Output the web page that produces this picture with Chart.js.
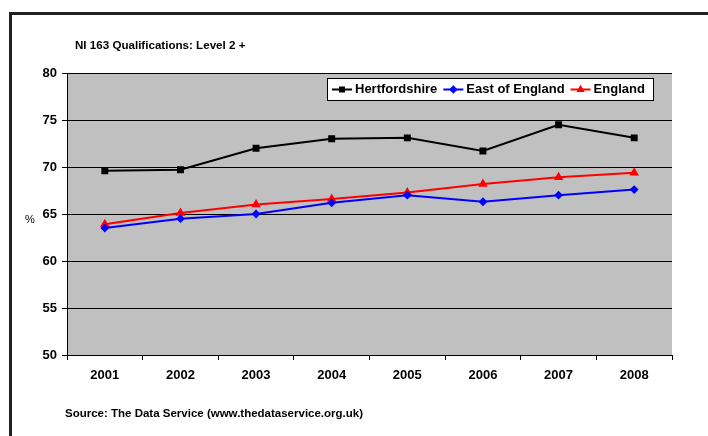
<!DOCTYPE html>
<html>
<head>
<meta charset="utf-8">
<script src="https://cdn.jsdelivr.net/npm/chart.js@4.4.1/dist/chart.umd.min.js"></script>
<style>
  html, body { margin: 0; padding: 0; background: #fff; }
  #wrap { position: relative; width: 708px; height: 436px; }
</style>
</head>
<body>
<div id="wrap"><canvas id="chart" width="708" height="436"></canvas></div>
<script>
const years = ["2001", "2002", "2003", "2004", "2005", "2006", "2007", "2008"];
const hertfordshire = [69.6, 69.7, 72.0, 73.0, 73.1, 71.7, 74.5, 73.1];
const eastOfEngland = [63.5, 64.5, 65.0, 66.2, 67.0, 66.3, 67.0, 67.6];
const england = [63.9, 65.1, 66.0, 66.6, 67.3, 68.2, 68.9, 69.4];

const titleText = "NI 163 Qualifications: Level 2 +";
const sourceText = "Source: The Data Service (www.thedataservice.org.uk)";
const FONT = "'Liberation Sans', Arial, sans-serif";

// frame, plot background, legend and texts
const decor = {
  id: "decor",
  beforeDraw(chart) {
    const { ctx, chartArea: a } = chart;
    ctx.save();
    ctx.fillStyle = "#fff";
    ctx.fillRect(0, 0, chart.width, chart.height);
    ctx.fillStyle = "#c0c0c0";
    ctx.fillRect(a.left, a.top, a.right - a.left, a.bottom - a.top);
    // outer frame
    ctx.fillStyle = "#222";
    ctx.fillRect(9, 12, chart.width - 9, 3);
    ctx.fillRect(9, 12, 3, chart.height - 12);
    ctx.restore();
  },
  afterDraw(chart) {
    const { ctx } = chart;
    ctx.save();
    ctx.fillStyle = "#000";
    ctx.textBaseline = "middle";
    ctx.font = "bold 11.6px " + FONT;
    ctx.fillText(titleText, 75, 46);
    ctx.font = "bold 11.5px " + FONT;
    ctx.fillText(sourceText, 65, 414);
    ctx.font = "11px " + FONT;
    ctx.fillText("%", 25, 220);

    // legend box inside plot
    const bx = 327, by = 78, bw = 326, bh = 22;
    ctx.fillStyle = "#fff";
    ctx.fillRect(bx, by, bw, bh);
    ctx.strokeStyle = "#000";
    ctx.lineWidth = 1;
    ctx.strokeRect(bx + 0.5, by + 0.5, bw, bh);
    ctx.font = "bold 13px " + FONT;
    let x = bx + 5;
    const cy = by + bh / 2 + 0.5;
    chart.data.datasets.forEach((ds) => {
      ctx.strokeStyle = ds.borderColor;
      ctx.lineWidth = 2;
      ctx.beginPath();
      ctx.moveTo(x, cy);
      ctx.lineTo(x + 20, cy);
      ctx.stroke();
      ctx.fillStyle = ds.borderColor;
      Chart.helpers.drawPoint(ctx, {
        pointStyle: ds.pointStyle, radius: 2.8, borderWidth: 1
      }, x + 10, cy);
      ctx.fillStyle = "#000";
      ctx.fillText(ds.label, x + 23, cy);
      x += 23 + ctx.measureText(ds.label).width + 6;
    });
    ctx.restore();
  }
};

function series(label, data, color, style, radius) {
  return {
    label: label,
    data: data,
    borderColor: color,
    backgroundColor: color,
    pointBackgroundColor: color,
    pointBorderColor: color,
    pointStyle: style,
    pointRadius: radius,
    borderWidth: 2,
    tension: 0,
    fill: false
  };
}

new Chart(document.getElementById("chart"), {
  type: "line",
  data: {
    labels: years,
    datasets: [
      series("Hertfordshire", hertfordshire, "#000000", "rect", 3.5),
      series("East of England", eastOfEngland, "#0000ff", "rectRot", 3),
      series("England", england, "#ff0000", "triangle", 3.5)
    ]
  },
  options: {
    responsive: false,
    animation: false,
    layout: { padding: { top: 73, right: 36, left: 0, bottom: 0 } },
    plugins: {
      legend: { display: false },
      tooltip: { enabled: false }
    },
    scales: {
      x: {
        offset: true,
        afterFit(scale) { scale.height = 81; },
        grid: { offset: true, drawOnChartArea: false, drawTicks: true, tickLength: 5, color: "#000" },
        border: { color: "#000", width: 1 },
        ticks: { color: "#000", padding: 8, font: { family: FONT, size: 13, weight: "bold" } }
      },
      y: {
        min: 50,
        max: 80,
        afterFit(scale) { scale.width = 67; },
        grid: { color: "#000", lineWidth: 1, drawTicks: true, tickLength: 5 },
        border: { color: "#000", width: 1 },
        ticks: { stepSize: 5, color: "#000", padding: 5, font: { family: FONT, size: 13, weight: "bold" } }
      }
    }
  },
  plugins: [decor]
});
</script>
</body>
</html>
